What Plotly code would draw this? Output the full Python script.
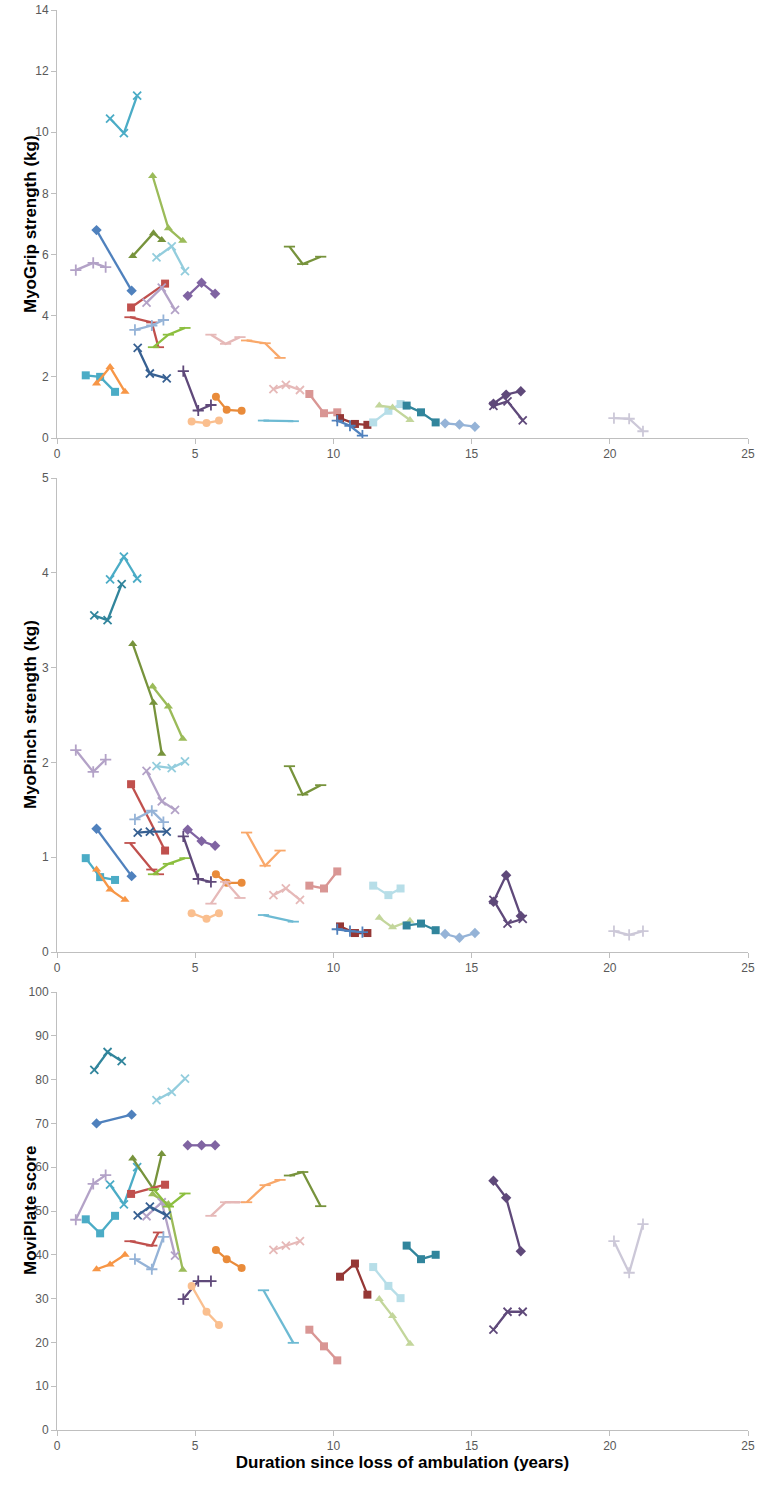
import plotly.graph_objects as go

# ---- data: per patient (years since loss of ambulation, MyoGrip kg, MyoPinch kg, MoviPlate score)
P01_YEARS = [1.92, 2.42, 2.90]; P01_GRIP = [10.45, 9.97, 11.2]; P01_PINCH = [3.93, 4.17, 3.94]; P01_MOVI = [56, 51.5, 60]
P02_YEARS = [1.35, 1.83, 2.34]; P02_GRIP = [None, None, None]; P02_PINCH = [3.55, 3.50, 3.88]; P02_MOVI = [82.2, 86.3, 84.2]
P03_YEARS = [3.46, 4.03, 4.55]; P03_GRIP = [8.57, 6.86, 6.45]; P03_PINCH = [2.80, 2.59, 2.25]; P03_MOVI = [53.8, 51.6, 36.6]
P04_YEARS = [2.74, 3.49, 3.79]; P04_GRIP = [5.95, 6.70, 6.48]; P04_PINCH = [3.25, 2.63, 2.09]; P04_MOVI = [62, 55, 63]
P05_YEARS = [3.60, 4.15, 4.63]; P05_GRIP = [5.91, 6.27, 5.46]; P05_PINCH = [1.96, 1.94, 2.01]; P05_MOVI = [75.3, 77.2, 80.2]
P06_YEARS = [0.68, 1.31, 1.76]; P06_GRIP = [5.49, 5.73, 5.59]; P06_PINCH = [2.13, 1.90, 2.03]; P06_MOVI = [48, 56.2, 58.2]
P07_YEARS = [1.43, 2.70]; P07_GRIP = [6.80, 4.82]; P07_PINCH = [1.30, 0.80]; P07_MOVI = [70, 72]
P08_YEARS = [4.73, 5.23, 5.72]; P08_GRIP = [4.65, 5.08, 4.72]; P08_PINCH = [1.29, 1.17, 1.12]; P08_MOVI = [65, 65, 65]
P09_YEARS = [2.68, 3.91]; P09_GRIP = [4.27, 5.05]; P09_PINCH = [1.77, 1.07]; P09_MOVI = [53.9, 56]
P10_YEARS = [3.24, 3.79, 4.27]; P10_GRIP = [4.43, 4.92, 4.19]; P10_PINCH = [1.91, 1.59, 1.50]; P10_MOVI = [48.8, 52, 39.8]
P11_YEARS = [2.64, 3.43, 3.67]; P11_GRIP = [3.95, 3.78, 2.97]; P11_PINCH = [1.15, 0.87, 0.82]; P11_MOVI = [43.1, 42.1, 45.1]
P12_YEARS = [2.82, 3.43, 3.85]; P12_GRIP = [3.54, 3.68, 3.86]; P12_PINCH = [1.40, 1.49, 1.37]; P12_MOVI = [39, 36.7, 44.1]
P13_YEARS = [3.49, 4.03, 4.63]; P13_GRIP = [2.97, 3.38, 3.60]; P13_PINCH = [0.82, 0.93, 0.99]; P13_MOVI = [55, 51, 54]
P14_YEARS = [2.92, 3.36, 3.97]; P14_GRIP = [2.95, 2.11, 1.95]; P14_PINCH = [1.26, 1.27, 1.27]; P14_MOVI = [49, 51, 49]
P15_YEARS = [1.04, 1.56, 2.10]; P15_GRIP = [2.05, 2.00, 1.51]; P15_PINCH = [0.99, 0.79, 0.76]; P15_MOVI = [48.1, 44.9, 48.9]
P16_YEARS = [1.43, 1.92, 2.46]; P16_GRIP = [1.78, 2.32, 1.51]; P16_PINCH = [0.87, 0.66, 0.55]; P16_MOVI = [36.7, 37.8, 40]
P17_YEARS = [4.57, 5.11, 5.57]; P17_GRIP = [2.19, 0.90, 1.08]; P17_PINCH = [1.22, 0.77, 0.74]; P17_MOVI = [29.9, 34, 34]
P18_YEARS = [5.75, 6.14, 6.68]; P18_GRIP = [1.35, 0.92, 0.89]; P18_PINCH = [0.82, 0.73, 0.73]; P18_MOVI = [41.1, 39, 37]
P19_YEARS = [4.87, 5.41, 5.86]; P19_GRIP = [0.54, 0.49, 0.57]; P19_PINCH = [0.41, 0.35, 0.41]; P19_MOVI = [32.9, 27, 24]
P20_YEARS = [5.57, 6.10, 6.62]; P20_GRIP = [3.38, 3.08, 3.30]; P20_PINCH = [0.51, 0.74, 0.57]; P20_MOVI = [48.9, 52, 52]
P21_YEARS = [6.86, 7.53, 8.07]; P21_GRIP = [3.19, 3.10, 2.62]; P21_PINCH = [1.26, 0.91, 1.07]; P21_MOVI = [52, 55.9, 57.1]
P22_YEARS = [7.47, 8.55]; P22_GRIP = [0.57, 0.55]; P22_PINCH = [0.39, 0.32]; P22_MOVI = [31.9, 19.9]
P23_YEARS = [8.41, 8.89, 9.54]; P23_GRIP = [6.26, 5.69, 5.93]; P23_PINCH = [1.96, 1.66, 1.76]; P23_MOVI = [58.1, 58.9, 51.1]
P24_YEARS = [7.83, 8.28, 8.79]; P24_GRIP = [1.60, 1.74, 1.57]; P24_PINCH = [0.60, 0.67, 0.55]; P24_MOVI = [41.1, 42.1, 43.1]
P25_YEARS = [9.13, 9.66, 10.14]; P25_GRIP = [1.44, 0.81, 0.84]; P25_PINCH = [0.70, 0.67, 0.85]; P25_MOVI = [22.9, 19.1, 15.9]
P26_YEARS = [10.24, 10.78, 11.23]; P26_GRIP = [0.65, 0.46, 0.43]; P26_PINCH = [0.27, 0.20, 0.20]; P26_MOVI = [35, 38, 30.9]
P27_YEARS = [10.14, 10.60, 11.05]; P27_GRIP = [0.57, 0.40, 0.08]; P27_PINCH = [0.24, 0.22, 0.21]; P27_MOVI = [None, None, None]
P28_YEARS = [11.44, 11.99, 12.43]; P28_GRIP = [0.51, 0.89, 1.11]; P28_PINCH = [0.70, 0.60, 0.67]; P28_MOVI = [37.2, 32.9, 30.1]
P29_YEARS = [11.66, 12.14, 12.77]; P29_GRIP = [1.06, 1.00, 0.59]; P29_PINCH = [0.36, 0.26, 0.33]; P29_MOVI = [29.9, 26, 19.7]
P30_YEARS = [12.65, 13.17, 13.70]; P30_GRIP = [1.06, 0.84, 0.51]; P30_PINCH = [0.28, 0.30, 0.23]; P30_MOVI = [42.1, 39, 40]
P31_YEARS = [14.04, 14.56, 15.12]; P31_GRIP = [0.48, 0.44, 0.37]; P31_PINCH = [0.19, 0.15, 0.20]; P31_MOVI = [None, None, None]
P32_YEARS = [15.79, 16.25, 16.78]; P32_GRIP = [1.12, 1.42, 1.53]; P32_PINCH = [0.53, 0.81, 0.38]; P32_MOVI = [56.9, 53, 40.8]
P33_YEARS = [15.79, 16.30, 16.85]; P33_GRIP = [1.05, 1.20, 0.58]; P33_PINCH = [0.55, 0.30, 0.35]; P33_MOVI = [22.9, 27, 27]
P34_YEARS = [20.15, 20.70, 21.20]; P34_GRIP = [0.65, 0.63, 0.22]; P34_PINCH = [0.22, 0.18, 0.22]; P34_MOVI = [43.1, 35.9, 47]

X_TICKS = [0, 5, 10, 15, 20, 25]
GRIP_TICKS = [0, 2, 4, 6, 8, 10, 12, 14]
PINCH_TICKS = [0, 1, 2, 3, 4, 5]
MOVI_TICKS = [0, 10, 20, 30, 40, 50, 60, 70, 80, 90, 100]

PATIENTS = [
    (P01_YEARS, P01_GRIP, P01_PINCH, P01_MOVI), (P02_YEARS, P02_GRIP, P02_PINCH, P02_MOVI),
    (P03_YEARS, P03_GRIP, P03_PINCH, P03_MOVI), (P04_YEARS, P04_GRIP, P04_PINCH, P04_MOVI),
    (P05_YEARS, P05_GRIP, P05_PINCH, P05_MOVI), (P06_YEARS, P06_GRIP, P06_PINCH, P06_MOVI),
    (P07_YEARS, P07_GRIP, P07_PINCH, P07_MOVI), (P08_YEARS, P08_GRIP, P08_PINCH, P08_MOVI),
    (P09_YEARS, P09_GRIP, P09_PINCH, P09_MOVI), (P10_YEARS, P10_GRIP, P10_PINCH, P10_MOVI),
    (P11_YEARS, P11_GRIP, P11_PINCH, P11_MOVI), (P12_YEARS, P12_GRIP, P12_PINCH, P12_MOVI),
    (P13_YEARS, P13_GRIP, P13_PINCH, P13_MOVI), (P14_YEARS, P14_GRIP, P14_PINCH, P14_MOVI),
    (P15_YEARS, P15_GRIP, P15_PINCH, P15_MOVI), (P16_YEARS, P16_GRIP, P16_PINCH, P16_MOVI),
    (P17_YEARS, P17_GRIP, P17_PINCH, P17_MOVI), (P18_YEARS, P18_GRIP, P18_PINCH, P18_MOVI),
    (P19_YEARS, P19_GRIP, P19_PINCH, P19_MOVI), (P20_YEARS, P20_GRIP, P20_PINCH, P20_MOVI),
    (P21_YEARS, P21_GRIP, P21_PINCH, P21_MOVI), (P22_YEARS, P22_GRIP, P22_PINCH, P22_MOVI),
    (P23_YEARS, P23_GRIP, P23_PINCH, P23_MOVI), (P24_YEARS, P24_GRIP, P24_PINCH, P24_MOVI),
    (P25_YEARS, P25_GRIP, P25_PINCH, P25_MOVI), (P26_YEARS, P26_GRIP, P26_PINCH, P26_MOVI),
    (P27_YEARS, P27_GRIP, P27_PINCH, P27_MOVI), (P28_YEARS, P28_GRIP, P28_PINCH, P28_MOVI),
    (P29_YEARS, P29_GRIP, P29_PINCH, P29_MOVI), (P30_YEARS, P30_GRIP, P30_PINCH, P30_MOVI),
    (P31_YEARS, P31_GRIP, P31_PINCH, P31_MOVI), (P32_YEARS, P32_GRIP, P32_PINCH, P32_MOVI),
    (P33_YEARS, P33_GRIP, P33_PINCH, P33_MOVI), (P34_YEARS, P34_GRIP, P34_PINCH, P34_MOVI),
]

# ---- styles (colour, marker symbol) per patient, same order
STYLES = [
    ("#4BACC6", "x-thin"), ("#31859C", "x-thin"), ("#9BBB59", "triangle-up"), ("#77933C", "triangle-up"),
    ("#93CDDD", "x-thin"), ("#B3A2C7", "cross-thin"), ("#4F81BD", "diamond"), ("#8064A2", "diamond"),
    ("#C0504D", "square"), ("#B3A2C7", "x-thin"), ("#C0504D", "line-ew"), ("#95B3D7", "cross-thin"),
    ("#8CBF3F", "line-ew"), ("#376092", "x-thin"), ("#4BACC6", "square"), ("#F79646", "triangle-up"),
    ("#5F497A", "cross-thin"), ("#E98B3A", "circle"), ("#FABF8F", "circle"), ("#E6B9B8", "line-ew"),
    ("#F9A86A", "line-ew"), ("#6DBAD3", "line-ew"), ("#77933C", "line-ew"), ("#E6B9B8", "x-thin"),
    ("#D99694", "square"), ("#953735", "square"), ("#4F81BD", "cross-thin"), ("#B7DEE8", "square"),
    ("#C3D69B", "triangle-up"), ("#31859C", "square"), ("#95B3D7", "diamond"), ("#5F497A", "diamond"),
    ("#5F497A", "x-thin"), ("#CCC8D8", "cross-thin"),
]

fig = go.Figure()
H = 1420.0
domains = {"y": [992 / H, 1.0], "y2": [478 / H, 952 / H], "y3": [0.0, 438 / H]}

for (years, grip, pinch, movi), (color, sym) in zip(PATIENTS, STYLES):
    thin = sym in ("x-thin", "cross-thin", "line-ew")
    marker = dict(symbol=sym, color=color, size=8,
                  line=dict(color=color, width=1.8 if thin else 0))
    for vals, xa, ya in ((grip, "x", "y"), (pinch, "x2", "y2"), (movi, "x3", "y3")):
        if all(v is None for v in vals):
            continue
        fig.add_trace(go.Scatter(x=years, y=vals, xaxis=xa, yaxis=ya, mode="lines+markers",
                                 line=dict(color=color, width=2.3), marker=marker,
                                 showlegend=False, hoverinfo="x+y"))

axis_common = dict(showgrid=False, zeroline=False, showline=True, linecolor="#BFBFBF", linewidth=1,
                   ticks="outside", tickcolor="#BFBFBF", ticklen=5, automargin=False,
                   ticklabeloverflow="allow",
                   tickfont=dict(family="Liberation Sans, Arial", size=12, color="#595959"))
title_font = dict(family="Liberation Sans, Arial", size=17, color="#000000")

annotations = []
for xa, ya, ticks, rng, title in (("xaxis", "yaxis", GRIP_TICKS, [0, 14], "<b>MyoGrip strength (kg)</b>"),
                                  ("xaxis2", "yaxis2", PINCH_TICKS, [0, 5], "<b>MyoPinch strength (kg)</b>"),
                                  ("xaxis3", "yaxis3", MOVI_TICKS, [0, 100], "<b>MoviPlate score</b>")):
    yk = "y" + ya[5:]
    xk = "x" + xa[5:]
    fig.layout[xa] = dict(axis_common, range=[0, 25], tickvals=X_TICKS, anchor=yk, domain=[0, 1])
    fig.layout[ya] = dict(axis_common, range=rng, tickvals=ticks, anchor=xk, domain=domains[yk])
    d = domains[yk]
    annotations.append(dict(text=title, textangle=-90, xref="paper", yref="paper", x=0, xshift=-27,
                            y=(d[0] + d[1]) / 2, xanchor="center", yanchor="middle",
                            showarrow=False, font=title_font))

fig.layout.xaxis3.title = dict(text="<b>Duration since loss of ambulation (years)</b>", font=title_font, standoff=2)

fig.update_layout(width=765, height=1491, margin=dict(l=57, r=17, t=10, b=61, autoexpand=False),
                  plot_bgcolor="white", paper_bgcolor="white", annotations=annotations)

# remove the default 8px body margin so the figure fills the window exactly; hide the modebar
fig.write_html("out.html", config={"displayModeBar": False},
               post_script="document.body.style.margin='0';")
